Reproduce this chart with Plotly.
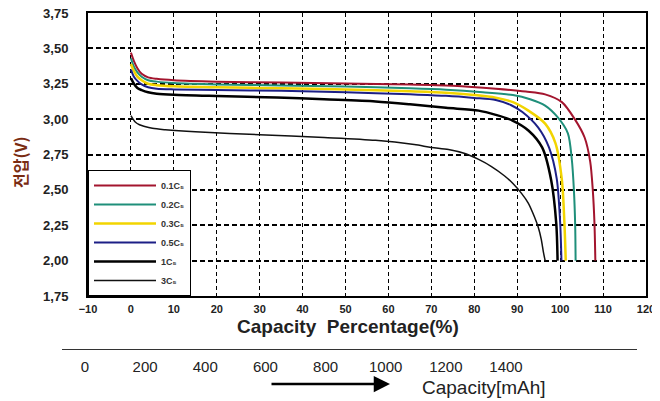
import plotly.graph_objects as go

# page body has an 8px margin, so the figure is drawn 8px in from the window corner
OFF = 8
W, H = 660 - OFF, 401 - OFF


def fx(px):
    return (px - OFF) / W


def fy(py):
    return 1 - (py - OFF) / H


series_names = ["0.1C\u2085", "0.2C\u2085", "0.3C\u2085", "0.5C\u2085", "1C\u2085", "3C\u2085"]

x_01c = [0, 0.7, 1.5, 2.5, 4, 6, 10, 20, 35, 50, 65, 75, 85, 92, 96.5, 100.4, 103.4, 105.7, 107.0, 107.6, 108.0, 108.2]
v_01c = [3.47, 3.41, 3.36, 3.32, 3.295, 3.285, 3.275, 3.265, 3.258, 3.252, 3.245, 3.236, 3.215, 3.195, 3.175, 3.12, 3.00, 2.87, 2.70, 2.50, 2.26, 2.00]

x_02c = [0, 0.7, 1.5, 2.5, 4, 6, 10, 20, 35, 50, 65, 73.4, 82, 89, 93, 96.5, 99.5, 101.8, 102.7, 103.2, 103.5, 103.6]
v_02c = [3.43, 3.37, 3.33, 3.30, 3.275, 3.265, 3.255, 3.245, 3.238, 3.23, 3.218, 3.208, 3.19, 3.17, 3.14, 3.095, 3.01, 2.90, 2.72, 2.50, 2.25, 2.00]

x_03c = [0, 0.7, 1.5, 2.5, 4, 6, 10, 20, 35, 50, 65, 73.4, 80, 85, 89, 92.6, 96.5, 98.9, 100.4, 101.0, 101.3]
v_03c = [3.39, 3.34, 3.30, 3.275, 3.25, 3.24, 3.232, 3.225, 3.218, 3.21, 3.197, 3.187, 3.17, 3.151, 3.12, 3.06, 2.968, 2.83, 2.57, 2.26, 2.00]

x_05c = [0, 0.7, 1.5, 2.5, 4, 6, 10, 20, 35, 50, 65, 73.4, 80, 85, 88.5, 91.2, 94.9, 97.4, 99.2, 100.0, 100.3]
v_05c = [3.35, 3.30, 3.27, 3.245, 3.225, 3.215, 3.21, 3.205, 3.20, 3.19, 3.175, 3.165, 3.15, 3.135, 3.10, 3.05, 2.94, 2.80, 2.58, 2.27, 2.00]

x_1c = [0, 0.7, 1.5, 2.5, 4, 6, 10, 20, 34, 45, 57, 65, 73.4, 81, 85, 88.9, 92.6, 95.8, 97.9, 99.1, 99.4]
v_1c = [3.29, 3.25, 3.22, 3.205, 3.19, 3.18, 3.172, 3.163, 3.153, 3.14, 3.125, 3.105, 3.08, 3.06, 3.03, 2.99, 2.92, 2.80, 2.57, 2.26, 2.00]

x_3c = [0, 0.5, 1, 2, 3, 5, 8, 15, 30, 45, 57, 66, 70, 74, 78, 81, 84, 87, 89, 91, 92.6, 94, 94.9, 95.6, 96.1, 96.5]
v_3c = [3.025, 3.0, 2.98, 2.96, 2.95, 2.935, 2.925, 2.91, 2.89, 2.87, 2.85, 2.82, 2.80, 2.785, 2.755, 2.715, 2.665, 2.60, 2.545, 2.475, 2.405, 2.31, 2.236, 2.15, 2.06, 2.00]

colors = ["#a3152e", "#1f8f7a", "#f2d400", "#1c1f86", "#000000", "#111111"]
widths = [2, 2, 2.5, 2, 2.5, 1.5]

x_ticks = list(range(-10, 121, 10))
y_ticks = [1.75, 2.00, 2.25, 2.50, 2.75, 3.00, 3.25, 3.50, 3.75]
y_tick_text = ["1,75", "2,00", "2,25", "2,50", "2,75", "3,00", "3,25", "3,50", "3,75"]
cap_ticks = [0, 200, 400, 600, 800, 1000, 1200, 1400]

fig = go.Figure()
all_x = [x_01c, x_02c, x_03c, x_05c, x_1c, x_3c]
all_v = [v_01c, v_02c, v_03c, v_05c, v_1c, v_3c]
for name, xs, vs, c, w in zip(series_names, all_x, all_v, colors, widths):
    fig.add_trace(go.Scatter(x=xs, y=vs, mode="lines", name=name,
                             line=dict(color=c, width=w, shape="spline", smoothing=0.8),
                             hoverinfo="skip"))

# invisible trace to carry the capacity axis (on its own hidden y axis)
fig.add_trace(go.Scatter(x=[cap_ticks[0], cap_ticks[-1]], y=[None, None], xaxis="x2", yaxis="y2",
                         mode="lines", showlegend=False, hoverinfo="skip"))

bold = "Liberation Sans"
fig.update_layout(
    width=W, height=H,
    margin=dict(l=0, r=0, t=0, b=0, autoexpand=False),
    paper_bgcolor="white", plot_bgcolor="rgba(0,0,0,0)",
    font=dict(family="Liberation Sans", color="#222"),
    xaxis=dict(domain=[fx(88), fx(646)], range=[-10, 120], tickvals=x_ticks,
               ticktext=["\u221210"] + [str(t) for t in x_ticks[1:]],
               showgrid=True, gridcolor="black", gridwidth=1.3, griddash="4px,3px",
               showline=True, linecolor="black", linewidth=2, mirror=True,
               zeroline=False, ticks="", ticklen=0, ticklabelstandoff=2, automargin=False,
               ticklabeloverflow="allow",
               tickfont=dict(family=bold, size=11, color="#222", weight="bold")),
    yaxis=dict(domain=[fy(296), fy(13)], range=[1.75, 3.75], tickvals=y_ticks,
               ticktext=y_tick_text,
               showgrid=True, gridcolor="black", gridwidth=1.5, griddash="5px,3px",
               showline=True, linecolor="black", linewidth=2, mirror=True,
               zeroline=False, ticks="", ticklen=0, ticklabelstandoff=15, automargin=False,
               ticklabeloverflow="allow",
               tickfont=dict(family=bold, size=13, color="#222", weight="bold")),
    xaxis2=dict(domain=[fx(62), fx(637)], range=[-76.5, 1835.7], anchor="free",
                position=fy(349), tickvals=cap_ticks,
                showgrid=False, zeroline=False, showline=True, linecolor="#333", linewidth=1,
                ticks="", ticklen=0, ticklabelstandoff=4, automargin=False,
                ticklabeloverflow="allow",
                tickfont=dict(family="Liberation Sans", size=15, color="#222")),
    yaxis2=dict(domain=[fy(349), fy(340)], anchor="x2", visible=False, showgrid=False,
                zeroline=False, range=[0, 1]),
    legend=dict(x=fx(88), y=fy(296), xanchor="left", yanchor="bottom",
                bgcolor="white", bordercolor="black", borderwidth=1,
                font=dict(family=bold, size=9, color="#333", weight="bold"),
                tracegroupgap=0, itemwidth=62),
    showlegend=True,
)

fig.add_annotation(x=fx(348), y=fy(326), xref="paper", yref="paper",
                   xanchor="center", yanchor="middle",
                   text="Capacity  Percentage(%)", showarrow=False,
                   font=dict(family=bold, size=19, color="#222", weight="bold"))
fig.add_annotation(x=fx(20), y=fy(163), xref="paper", yref="paper",
                   xanchor="center", yanchor="middle",
                   text="전압(V)", textangle=-90, showarrow=False,
                   font=dict(family="Noto Sans CJK KR", size=16, color="#7a2c12", weight="bold"))
fig.add_annotation(x=fx(420), y=fy(387), xref="paper", yref="paper",
                   xanchor="left", yanchor="middle",
                   text="Capacity[mAh]", showarrow=False,
                   font=dict(family="Liberation Sans", size=19, color="#222"))
fig.add_annotation(x=fx(390), y=fy(384), ax=-120, ay=0,
                   xref="paper", yref="paper", axref="pixel", ayref="pixel",
                   text="", showarrow=True, arrowhead=2, arrowsize=1.3, arrowwidth=2.5,
                   arrowcolor="black")

fig.write_html("out.html")
